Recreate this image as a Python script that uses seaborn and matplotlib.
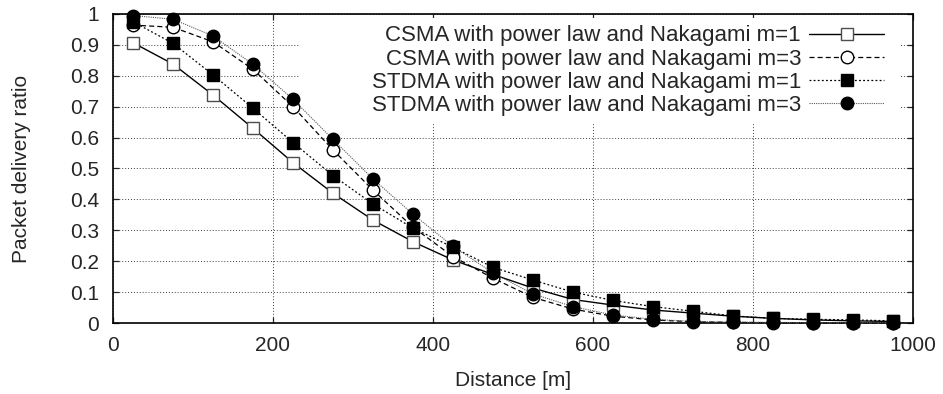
import numpy as np
import pandas as pd
import matplotlib
matplotlib.use("Agg")
import matplotlib.pyplot as plt
from matplotlib.patches import Rectangle
import seaborn as sns

# Datos
distance = [25, 75, 125, 175, 225, 275, 325, 375, 425, 475,
            525, 575, 625, 675, 725, 775, 825, 875, 925, 975]
csma_m1 = [0.907, 0.838, 0.738, 0.630, 0.519, 0.420, 0.333, 0.263, 0.204, 0.157,
           0.113, 0.076, 0.058, 0.042, 0.032, 0.022, 0.015, 0.010, 0.007, 0.005]
csma_m3 = [0.964, 0.957, 0.910, 0.821, 0.700, 0.560, 0.430, 0.310, 0.215, 0.145,
           0.083, 0.045, 0.022, 0.010, 0.004, 0.002, 0.001, 0.000, 0.000, 0.000]
stdma_m1 = [0.975, 0.905, 0.803, 0.695, 0.584, 0.477, 0.385, 0.307, 0.245, 0.180,
            0.139, 0.100, 0.073, 0.053, 0.038, 0.023, 0.015, 0.012, 0.010, 0.007]
stdma_m3 = [0.995, 0.983, 0.929, 0.837, 0.724, 0.594, 0.466, 0.352, 0.248, 0.162,
            0.094, 0.053, 0.026, 0.012, 0.005, 0.003, 0.002, 0.001, 0.001, 0.001]

labels = ["CSMA with power law and Nakagami m=1",
          "CSMA with power law and Nakagami m=3",
          "STDMA with power law and Nakagami m=1",
          "STDMA with power law and Nakagami m=3"]
x_ticks = [0, 200, 400, 600, 800, 1000]
y_ticks = [0, 0.1, 0.2, 0.3, 0.4, 0.5, 0.6, 0.7, 0.8, 0.9, 1]

sns.set_style("ticks")
plt.rcParams['font.family'] = ['Liberation Sans', 'DejaVu Sans']
plt.rcParams['font.size'] = 15

fig = plt.figure(figsize=(9.43, 3.94), dpi=100)
ax = fig.add_axes([0.1198, 0.1802, 0.8484, 0.7843])

# estilo de cada serie (tipo gnuplot)
styles = [
    dict(color="black", lw=1.0, linestyle="-", marker="s", mfc="white", mec="0.3", mew=1.0),
    dict(color="black", lw=0.9, linestyle=(0, (4, 2.5)), marker="o", mfc="white", mec="black", mew=1.0),
    dict(color="black", lw=0.9, linestyle=(0, (1.5, 1.8)), marker="s", mfc="black", mec="black", mew=1.0),
    dict(color="0.35", lw=0.8, linestyle=(0, (1, 1)), marker="o", mfc="black", mec="black", mew=1.0),
]
series = [csma_m1, csma_m3, stdma_m1, stdma_m3]

for vals, lab, st in zip(series, labels, styles):
    df = pd.DataFrame({"Distance": distance, "PDR": vals})
    sns.lineplot(data=df, x="Distance", y="PDR", ax=ax, label=lab,
                 markersize=9, clip_on=False, zorder=3, **st)

ax.set_xlim(0, 1000)
ax.set_ylim(0, 1)
ax.set_xticks(x_ticks)
ax.set_yticks(y_ticks)
ax.set_yticklabels([f"{v:g}" for v in y_ticks])
ax.grid(True, color="0.25", linestyle=(0, (1, 2)), linewidth=0.7)
ax.tick_params(direction="in", top=True, right=True, length=4.5, width=0.9,
               labelsize=15)
ax.tick_params(axis="x", pad=9)
ax.tick_params(axis="y", pad=10)
for s in ax.spines.values():
    s.set_visible(True)
    s.set_linewidth(1.2)
    s.set_color("black")

# zona blanca de la leyenda (tapa la rejilla, como en gnuplot)
ax.add_patch(Rectangle((0.234, 0.683), 0.75, 0.298, transform=ax.transAxes,
                       facecolor="white", edgecolor="none", zorder=1))

ax.set_xlabel("Distance [m]", fontsize=15, labelpad=12)
ax.set_ylabel("Packet delivery ratio", fontsize=15, labelpad=28)

leg = ax.legend(loc="upper right", bbox_to_anchor=(0.974, 0.988), borderaxespad=0,
                markerfirst=False, handlelength=3.4, handletextpad=0.35,
                labelspacing=0.1, borderpad=0.35, fontsize=16,
                frameon=True, fancybox=False, framealpha=1.0)
leg.get_frame().set_facecolor("white")
leg.get_frame().set_edgecolor("none")
leg.set_zorder(5)

plt.savefig("out.png", dpi=100)
